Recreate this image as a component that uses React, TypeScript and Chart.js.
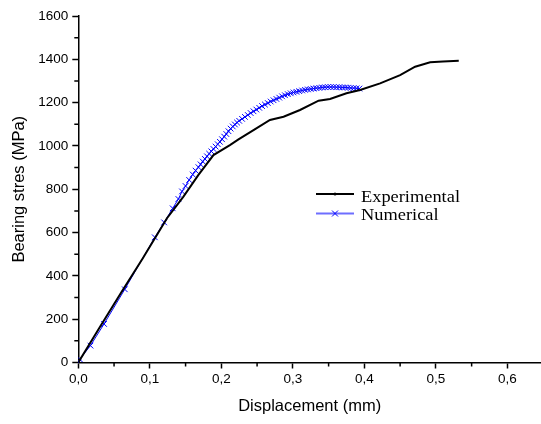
import React, { useEffect, useRef } from "react";
import { Chart, registerables } from "chart.js";

Chart.register(...registerables);

const xTickValues = [0, 0.1, 0.2, 0.3, 0.4, 0.5, 0.6];
const xMinorTicks = [0.05, 0.15, 0.25, 0.35, 0.45, 0.55];
const yTickValues = [0, 200, 400, 600, 800, 1000, 1200, 1400, 1600];
const yMinorTicks = [100, 300, 500, 700, 900, 1100, 1300, 1500];

const seriesNames = ["Experimental", "Numerical"];

const expX = [0, 0.03, 0.06, 0.09, 0.124, 0.147, 0.168, 0.189, 0.212, 0.224, 0.245, 0.268, 0.287, 0.31, 0.336, 0.352, 0.375, 0.394, 0.422, 0.45, 0.471, 0.492, 0.51, 0.532];
const expY = [0, 163, 323, 480, 666, 766, 866, 958, 1004, 1030, 1073, 1120, 1135, 1166, 1209, 1217, 1243, 1258, 1289, 1327, 1366, 1386, 1390, 1393];

const numX = [0, 0.002, 0.017, 0.036, 0.065, 0.107, 0.12, 0.132, 0.14, 0.145, 0.15, 0.155, 0.16, 0.164, 0.168, 0.171, 0.174, 0.177, 0.18, 0.183, 0.186, 0.189, 0.192, 0.195, 0.198, 0.201, 0.204, 0.207, 0.21, 0.213, 0.216, 0.219, 0.222, 0.225, 0.229, 0.233, 0.237, 0.241, 0.245, 0.249, 0.253, 0.257, 0.261, 0.265, 0.269, 0.273, 0.277, 0.281, 0.285, 0.289, 0.293, 0.297, 0.301, 0.305, 0.309, 0.313, 0.317, 0.321, 0.325, 0.329, 0.333, 0.337, 0.341, 0.345, 0.349, 0.353, 0.357, 0.361, 0.365, 0.369, 0.373, 0.377, 0.381, 0.385, 0.389, 0.393];
const numY = [0, 15, 78, 178, 338, 578, 647, 712, 755, 790, 815, 843, 868, 886, 902, 915, 928, 940, 952, 964, 975, 986, 997, 1008, 1019, 1031, 1043, 1055, 1068, 1080, 1090, 1099, 1108, 1116, 1125, 1134, 1143, 1152, 1160, 1168, 1176, 1184, 1191, 1198, 1205, 1211, 1217, 1223, 1229, 1234, 1239, 1243, 1247, 1250, 1253, 1256, 1259, 1261, 1263, 1265, 1267, 1268, 1270, 1271, 1272, 1272, 1272, 1271, 1271, 1270, 1270, 1269, 1268, 1267, 1266, 1265];

const sansFont = "'Liberation Sans', Arial, sans-serif";
const serifFont = "'Liberation Serif', 'Times New Roman', serif";

const minorTicksPlugin = {
  id: "minorTicks",
  afterDraw(chart: any) {
    const ctx = chart.ctx;
    const xs = chart.scales.x;
    const ys = chart.scales.y;
    const area = chart.chartArea;
    ctx.save();
    ctx.strokeStyle = "#000";
    ctx.lineWidth = 1.5;
    ctx.beginPath();
    xMinorTicks.forEach((v) => {
      const px = xs.getPixelForValue(v);
      ctx.moveTo(px, area.bottom);
      ctx.lineTo(px, area.bottom + 4);
    });
    yMinorTicks.forEach((v) => {
      const py = ys.getPixelForValue(v);
      ctx.moveTo(area.left, py);
      ctx.lineTo(area.left - 4, py);
    });
    ctx.stroke();
    ctx.restore();
  },
};

const legendPlugin = {
  id: "customLegend",
  afterDraw(chart: any) {
    const ctx = chart.ctx;
    ctx.save();
    const x0 = 316;
    const x1 = 354;
    const tx = 361;
    const rows = [
      { y: 194, base: 201.5, color: "#000000", marker: "dot" },
      { y: 213.5, base: 220, color: "#6e6eff", marker: "x" },
    ];
    rows.forEach((r, i) => {
      ctx.strokeStyle = r.color;
      ctx.lineWidth = 2;
      ctx.beginPath();
      ctx.moveTo(x0, r.y);
      ctx.lineTo(x1, r.y);
      ctx.stroke();
      const cx = (x0 + x1) / 2;
      if (r.marker === "dot") {
        ctx.fillStyle = "#000";
        ctx.beginPath();
        ctx.arc(cx, r.y, 1.5, 0, Math.PI * 2);
        ctx.fill();
      } else {
        ctx.strokeStyle = "#0000ff";
        ctx.lineWidth = 1;
        ctx.beginPath();
        ctx.moveTo(cx - 3, r.y - 3);
        ctx.lineTo(cx + 3, r.y + 3);
        ctx.moveTo(cx + 3, r.y - 3);
        ctx.lineTo(cx - 3, r.y + 3);
        ctx.stroke();
      }
      ctx.fillStyle = "#000";
      ctx.font = `17.5px ${serifFont}`;
      ctx.textBaseline = "alphabetic";
      ctx.textAlign = "left";
      ctx.save();
      ctx.translate(tx, r.base);
      ctx.scale(1.05, 1);
      ctx.fillText(seriesNames[i], 0, 0);
      ctx.restore();
    });
    ctx.restore();
  },
};

export default function App() {
  const canvasRef = useRef<HTMLCanvasElement | null>(null);

  useEffect(() => {
    const canvas = canvasRef.current;
    if (!canvas) return;
    const chart = new Chart(canvas, {
      type: "line",
      data: {
        datasets: [
          {
            label: seriesNames[0],
            data: expX.map((x, i) => ({ x, y: expY[i] })),
            borderColor: "#000000",
            borderWidth: 2,
            pointRadius: 0,
            tension: 0,
            fill: false,
          },
          {
            label: seriesNames[1],
            data: numX.map((x, i) => ({ x, y: numY[i] })),
            borderColor: "#0000ff",
            borderWidth: 1,
            pointStyle: "crossRot",
            pointRadius: 4,
            pointBorderColor: "#0000ff",
            pointBorderWidth: 1,
            tension: 0,
            fill: false,
          },
        ],
      },
      options: {
        responsive: false,
        animation: false,
        devicePixelRatio: 1,
        layout: { autoPadding: false, padding: { top: 16, right: 0, bottom: 0, left: 0 } },
        plugins: {
          legend: { display: false },
          tooltip: { enabled: false },
          title: { display: false },
        },
        scales: {
          x: {
            type: "linear",
            min: 0,
            max: 0.647,
            afterBuildTicks: (s: any) => {
              s.ticks = xTickValues.map((v) => ({ value: v }));
            },
            afterFit: (s: any) => {
              s.height = 61.5;
              s.paddingRight = 0;
              s.paddingLeft = 0;
            },
            ticks: {
              autoSkip: false,
              maxRotation: 0,
              padding: 3,
              color: "#000",
              font: { family: sansFont, size: 13.5 },
              callback: (v: any) => Number(v).toFixed(1).replace(".", ","),
            },
            grid: {
              drawOnChartArea: false,
              drawTicks: true,
              tickLength: 6,
              tickColor: "#000",
              tickWidth: 1.5,
            },
            border: { color: "#000", width: 1.5 },
            title: {
              display: true,
              text: "Displacement (mm)",
              color: "#000",
              font: { family: sansFont, size: 16.5 },
              padding: { top: 0, bottom: 8 },
            },
          },
          y: {
            type: "linear",
            min: 0,
            max: 1600,
            afterBuildTicks: (s: any) => {
              s.ticks = yTickValues.map((v) => ({ value: v }));
            },
            afterFit: (s: any) => {
              s.width = 78.3;
            },
            ticks: {
              autoSkip: false,
              padding: 4,
              color: "#000",
              font: { family: sansFont, size: 13.5 },
              callback: (v: any) => String(v),
            },
            grid: {
              drawOnChartArea: false,
              drawTicks: true,
              tickLength: 6,
              tickColor: "#000",
              tickWidth: 1.5,
            },
            border: { color: "#000", width: 1.5 },
            title: {
              display: true,
              text: "Bearing stres (MPa)",
              color: "#000",
              font: { family: sansFont, size: 16.5 },
              padding: { top: 10, bottom: 0 },
            },
          },
        },
      },
      plugins: [minorTicksPlugin, legendPlugin],
    } as any);
    return () => chart.destroy();
  }, []);

  return (
    <div style={{ position: "fixed", left: 0, top: 0, width: 541, height: 424, background: "#fff", overflow: "hidden" }}>
      <canvas ref={canvasRef} width={541} height={424} style={{ width: 541, height: 424, display: "block" }} />
    </div>
  );
}
